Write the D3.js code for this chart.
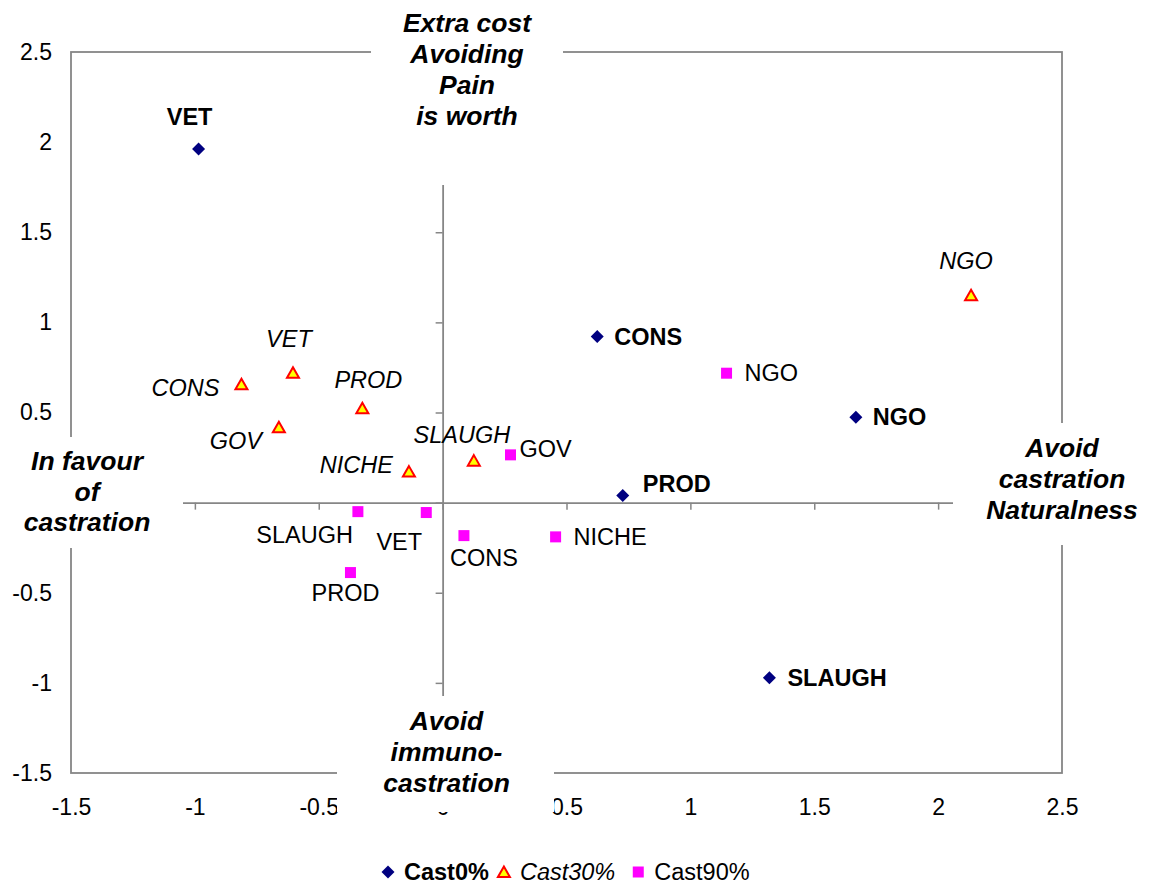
<!DOCTYPE html>
<html>
<head>
<meta charset="utf-8">
<script src="https://cdn.jsdelivr.net/npm/d3@7"></script>
<style>
  html, body { margin: 0; padding: 0; background: #fff; }
  svg { display: block; font-family: "Liberation Sans", Arial, Helvetica, sans-serif; }
</style>
</head>
<body>
<svg id="chart" width="1149" height="884"></svg>
<script>
// ---- data ----
const seriesNames = ["Cast0%", "Cast30%", "Cast90%"];
const cast0 = [
  { name: "VET",    x: -0.985, y: 1.962 },
  { name: "CONS",   x: 0.624,  y: 0.921 },
  { name: "NGO",    x: 1.668,  y: 0.474 },
  { name: "PROD",   x: 0.727,  y: 0.039 },
  { name: "SLAUGH", x: 1.319,  y: -0.972 }
];
const cast30 = [
  { name: "NGO",    x: 2.133,  y: 1.151 },
  { name: "VET",    x: -0.604, y: 0.721 },
  { name: "CONS",   x: -0.812, y: 0.657 },
  { name: "PROD",   x: -0.324, y: 0.524 },
  { name: "GOV",    x: -0.661, y: 0.418 },
  { name: "NICHE",  x: -0.136, y: 0.172 },
  { name: "SLAUGH", x: 0.126,  y: 0.233 }
];
const cast90 = [
  { name: "SLAUGH", x: -0.342, y: -0.050 },
  { name: "VET",    x: -0.066, y: -0.055 },
  { name: "CONS",   x: 0.086,  y: -0.183 },
  { name: "PROD",   x: -0.372, y: -0.388 },
  { name: "GOV",    x: 0.274,  y: 0.265 },
  { name: "NICHE",  x: 0.456,  y: -0.190 },
  { name: "NGO",    x: 1.146,  y: 0.718 }
];
const xTicks = [-1.5, -1, -0.5, 0, 0.5, 1, 1.5, 2, 2.5];
const yTicks = [-1.5, -1, -0.5, 0, 0.5, 1, 1.5, 2, 2.5];
const xTickLabels = ["-1.5", "-1", "-0.5", "0", "0.5", "1", "1.5", "2", "2.5"];
const yTickLabels = ["-1.5", "-1", "-0.5", "", "0.5", "1", "1.5", "2", "2.5"]; // "0" is hidden under the left title box
const titleTop    = ["Extra cost", "Avoiding", "Pain", "is worth"];
const titleLeft   = ["In favour", "of", "castration"];
const titleBottom = ["Avoid", "immuno-", "castration"];
const titleRight  = ["Avoid", "castration", "Naturalness"];

// ---- layout / style (not data) ----
const labelPlacement = {
  "Cast0%": {
    VET: [-9, -24, "middle"], CONS: [17, 8, "start"], NGO: [17, 8, "start"],
    PROD: [20, -4, "start"], SLAUGH: [18, 8, "start"]
  },
  "Cast30%": {
    NGO: [-5, -26, "middle"], VET: [-4, -26, "middle"], CONS: [-22, 12, "end"],
    PROD: [6, -20, "middle"], GOV: [-17, 22, "end"], NICHE: [-16, 1, "end"],
    SLAUGH: [-12, -18, "middle"]
  },
  "Cast90%": {
    SLAUGH: [-5, 31, "end"], VET: [-27, 37, "middle"], CONS: [20, 30, "middle"],
    PROD: [-5, 28, "middle"], GOV: [9, 2, "start"], NICHE: [18, 8, "start"],
    NGO: [18, 8, "start"]
  }
};
const seriesStyle = {
  "Cast0%":  { shape: "diamond",  fill: "#000080", stroke: "none", weight: "bold", style: "normal" },
  "Cast30%": { shape: "triangle", fill: "#FFFF00", stroke: "#FF0000", weight: "normal", style: "italic" },
  "Cast90%": { shape: "square",   fill: "#FF00FF", stroke: "none", weight: "normal", style: "normal" }
};
const seriesData = { "Cast0%": cast0, "Cast30%": cast30, "Cast90%": cast90 };
const labelFont = 23.5, tickFont = 23, titleFont = 26.5, legendFont = 23.5;

function markerPath(shape) {
  if (shape === "diamond") return "M0,-6.5L6.5,0L0,6.5L-6.5,0Z";
  if (shape === "triangle") return "M0,-5.5L6,5L-6,5Z";
  return "M-5.5,-5.5H5.5V5.5H-5.5Z";
}

const svg = d3.select("#chart");
const x = d3.scaleLinear().domain([-1.5, 2.5]).range([71, 1062]);
const y = d3.scaleLinear().domain([-1.5, 2.5]).range([773, 52]);
const axisColor = "#868686";

// plot area border
svg.append("rect")
  .attr("x", x(-1.5)).attr("y", y(2.5))
  .attr("width", x(2.5) - x(-1.5)).attr("height", y(-1.5) - y(2.5))
  .attr("fill", "none").attr("stroke", axisColor).attr("stroke-width", 1.8);

// zero axes with tick marks
const gx = svg.append("g").attr("transform", `translate(0,${y(0)})`)
  .call(d3.axisBottom(x).tickValues(xTicks).tickSize(7).tickSizeOuter(0).tickFormat(""));
const gy = svg.append("g").attr("transform", `translate(${x(0)},0)`)
  .call(d3.axisLeft(y).tickValues(yTicks).tickSize(7).tickSizeOuter(0).tickFormat(""));
[gx, gy].forEach(g => {
  g.select(".domain").attr("stroke", axisColor).attr("stroke-width", 1.8);
  g.selectAll(".tick line").attr("stroke", axisColor).attr("stroke-width", 1.5);
});

// tick labels (low position)
const gxl = svg.append("g").attr("transform", `translate(0,${y(-1.5)})`)
  .call(d3.axisBottom(x).tickValues(xTicks).tickSize(0).tickPadding(26)
    .tickFormat((d, i) => xTickLabels[i]));
const gyl = svg.append("g").attr("transform", `translate(${x(-1.5)},0)`)
  .call(d3.axisLeft(y).tickValues(yTicks).tickSize(0).tickPadding(19)
    .tickFormat((d, i) => yTickLabels[i]));
[gxl, gyl].forEach(g => {
  g.select(".domain").remove();
  g.selectAll("text").attr("font-size", tickFont).attr("fill", "#000")
    .attr("font-family", '"Liberation Sans", Arial, sans-serif');
});

// points and labels
seriesNames.forEach(s => {
  const st = seriesStyle[s];
  const g = svg.append("g");
  g.selectAll("path").data(seriesData[s]).join("path")
    .attr("d", markerPath(st.shape))
    .attr("transform", d => `translate(${x(d.x)},${y(d.y)})`)
    .attr("fill", st.fill).attr("stroke", st.stroke).attr("stroke-width", 2);
  g.selectAll("text").data(seriesData[s]).join("text")
    .attr("x", d => x(d.x) + labelPlacement[s][d.name][0])
    .attr("y", d => y(d.y) + labelPlacement[s][d.name][1])
    .attr("text-anchor", d => labelPlacement[s][d.name][2])
    .attr("font-size", labelFont).attr("font-weight", st.weight).attr("font-style", st.style)
    .attr("fill", "#000").text(d => d.name);
});

// quadrant titles with white boxes
function titleBox(lines, cx, baseline0, lineH, box) {
  svg.append("rect").attr("x", box[0]).attr("y", box[1])
    .attr("width", box[2] - box[0]).attr("height", box[3] - box[1]).attr("fill", "#fff");
  svg.append("g").selectAll("text").data(lines).join("text")
    .attr("x", cx).attr("y", (d, i) => baseline0 + i * lineH)
    .attr("text-anchor", "middle").attr("font-size", titleFont)
    .attr("font-weight", "bold").attr("font-style", "italic").attr("fill", "#000")
    .text(d => d);
}
titleBox(titleTop, 467, 31.5, 31.2, [371, 0, 563, 185]);
titleBox(titleLeft, 87, 470, 30.5, [-9, 437, 183, 548]);
titleBox(titleBottom, 446.5, 730, 31, [337, 696, 554, 812]);
titleBox(titleRight, 1062, 457, 31, [953, 423, 1171, 545]);

// legend
const leg = svg.append("g");
const ly = 872;
const legendGapAfter = [15, 23, 0];
let lx = 388;
seriesNames.forEach((s, i) => {
  const st = seriesStyle[s];
  leg.append("path").attr("d", markerPath(st.shape))
    .attr("transform", `translate(${lx},${ly})`)
    .attr("fill", st.fill).attr("stroke", st.stroke).attr("stroke-width", 2);
  const t = leg.append("text").attr("x", lx + 16).attr("y", ly + 8)
    .attr("font-size", legendFont).attr("font-weight", st.weight).attr("font-style", st.style)
    .attr("fill", "#000").text(s);
  lx += 16 + t.node().getComputedTextLength() + legendGapAfter[i];
});
</script>
</body>
</html>
